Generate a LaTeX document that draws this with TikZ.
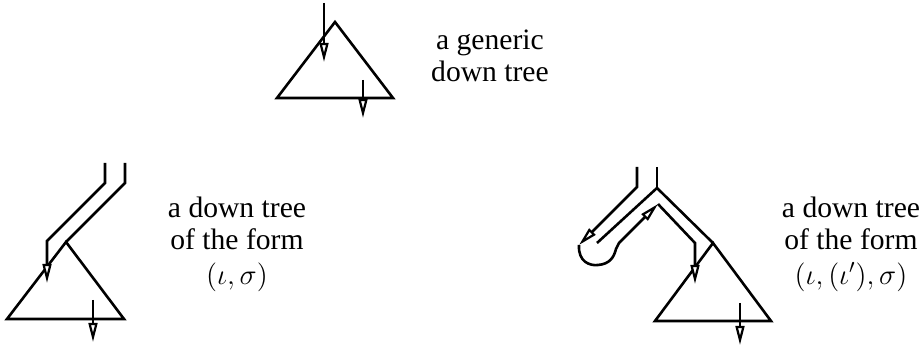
\documentclass[tikz,border=0pt]{standalone}
\usepackage{fontspec}
\setmainfont{Liberation Serif}
\usetikzlibrary{arrows.meta}
\begin{document}
\begin{tikzpicture}[x=0.5pt, y=-0.5pt, line width=1.3pt, line join=miter,
    flow/.style={-{Triangle[fill=white, length=9.5pt, width=4.4pt, line width=1.1pt]}},
    caption/.style={align=center, font=\fontsize{14.8}{16.2}\selectfont, inner sep=0pt}]
  \useasboundingbox (0,0) rectangle (923,347);
  % Generic down tree
  \coordinate (topA) at (335,22);
  \draw (topA) -- (393,98) -- (277,98) -- cycle;
  \draw[flow] (324,3) -- (324,62);
  \draw[flow] (363,80) -- (363,118);
  \node[caption] (generic) at (490,56) {a generic\\down tree};
  % Down tree of the form (iota, sigma)
  \coordinate (leftA) at (66,242);
  \draw (leftA) -- (124,319) -- (7,319) -- cycle;
  \draw (125,163) -- (125,183) -- (leftA);
  \draw[flow] (105,163) -- (105,183) -- (47,241) -- (47,283);
  \draw[flow] (93,300) -- (93,342);
  \node[caption] (formA) at (237,244) {a down tree\\of the form\\[1pt]$(\iota,\sigma)$};
  % Down tree of the form (iota, (iota'), sigma)
  \coordinate (rightA) at (713,243);
  \coordinate (join) at (657,188);
  \coordinate (turn) at (658,204);
  \draw (rightA) -- (771,321) -- (655,321) -- cycle;
  \draw (657,167) -- (join);
  \draw (597,243) -- (join) -- (rightA);
  \draw[flow] (637,167) -- (637,187) -- (579,245);
  \draw[flow] (579,245) .. controls (578,262) and (590,266) .. (598,265)
    .. controls (610,264) and (614,257) .. (616,249) -- (619,243) -- (turn);
  \draw[flow] (turn) -- (695,243) -- (695,284);
  \draw[flow] (740,303) -- (740,345);
  \node[caption] (formB) at (851,244) {a down tree\\of the form\\[1pt]$(\iota,(\iota'),\sigma)$};
\end{tikzpicture}
\end{document}
